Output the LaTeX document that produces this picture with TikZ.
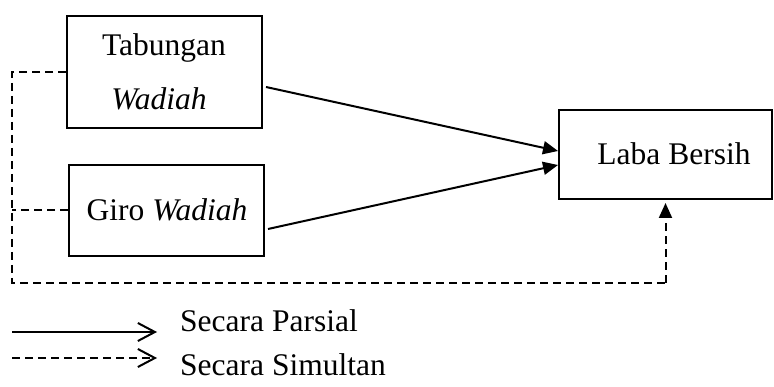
\documentclass[tikz,border=0pt]{standalone}
\usepackage{fontspec}
\setmainfont{Liberation Serif}
\usetikzlibrary{arrows.meta,calc}
\begin{document}
\begin{tikzpicture}[x=1pt,y=-1pt,
  every node/.style={font=\fontsize{31.5}{38}\selectfont},
  box/.style={draw,line width=2pt,inner sep=0pt},
  txt/.style={inner sep=0pt,anchor=base},
  tri/.style={-{Triangle[length=15pt,width=13pt]}},
  conn/.style={line width=2pt,tri},
  dashline/.style={line width=2pt,dash pattern=on 8pt off 5pt},
  legtip/.style={-{Straight Barb[length=17pt,width=18pt,line width=2pt]}}]
\useasboundingbox (0,0) rectangle (774,387);
% boxes
\node[box,minimum width=195pt,minimum height=112pt] (tab) at (164.5,72) {};
\node[box,minimum width=195pt,minimum height=91pt] (giro) at (166.5,210.5) {};
\node[box,minimum width=213pt,minimum height=89pt] (laba) at (665.5,154.5) {};
% texts
\node[txt] (t1) at (164,56) {Tabungan};
\node[txt] (t2) at (159,110) {\itshape Wadiah};
\node[txt] (t3) at (167,221) {Giro \textit{Wadiah}};
\node[txt] (t4) at (674,165) {Laba Bersih};
% partial arrows
\draw[conn] ([shift={(3,15)}]tab.east) -- ([shift={(0,-3.5)}]laba.west);
\draw[conn] ([shift={(3,18.5)}]giro.east) -- ([shift={(0,10.5)}]laba.west);
% simultaneous
\coordinate (c1) at (12,283);
\draw[dashline] (tab.west) -| (c1) -- (c1 -| laba.south);
\draw[dashline,tri,shorten >=3pt] (c1 -| laba.south) -- (laba.south);
\draw[dashline] (giro.west) -- (giro.west -| c1);
% legend
\coordinate (l1a) at (12,332);
\coordinate (l1b) at (157,332);
\coordinate (l2a) at (12,358);
\coordinate (l2b) at (157,358);
\draw[line width=2pt,legtip] (l1a) -- (l1b);
\draw[dashline,legtip] (l2a) -- (l2b);
\node[txt,anchor=base west] (lg1) at (180,332) {Secara Parsial};
\node[txt,anchor=base west] (lg2) at (180,376) {Secara Simultan};
\end{tikzpicture}
\end{document}
